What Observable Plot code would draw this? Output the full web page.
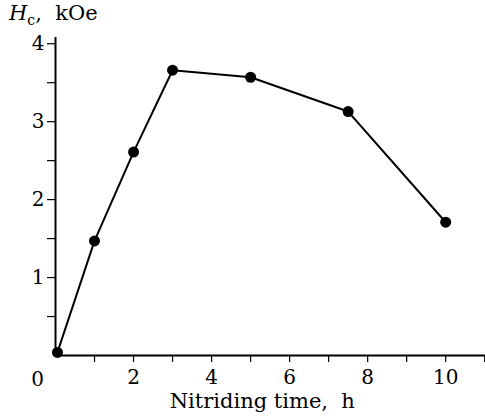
<!DOCTYPE html>
<html>
<head>
<meta charset="utf-8">
<script src="https://cdn.jsdelivr.net/npm/d3@7"></script>
<script src="https://cdn.jsdelivr.net/npm/@observablehq/plot@0.6"></script>
<style>
  body { margin: 0; background: #fff; }
  #wrap { position: relative; width: 485px; height: 416px; }
  #ylab { position: absolute; left: 9px; top: 3px; font-family: "DejaVu Serif", serif; font-size: 21px; color: #000; line-height: 1; }
  #ylab sub { font-size: 14px; font-style: normal; vertical-align: -5px; line-height: 0; }
  svg text { font-family: "DejaVu Serif", serif; }
</style>
</head>
<body>
<div id="wrap"><div id="ylab"><i>H</i><sub>c</sub>,&nbsp; kOe</div></div>
<script>
const times = [0.05, 1, 2, 3, 5, 7.5, 10];
const coercivity = [0.04, 1.47, 2.61, 3.66, 3.57, 3.13, 1.71];
const xTicks = [1, 2, 3, 4, 5, 6, 7, 8, 9, 10, 11];
const xLabels = ["", "2", "", "4", "", "6", "", "8", "", "10", ""];
const yTicks = [0.5, 1, 1.5, 2, 2.5, 3, 3.5, 4];
const yLabels = ["", "1", "", "2", "", "3", "", "4"];
const xTitle = "Nitriding time,  h";

const data = times.map((t, i) => ({t, h: coercivity[i]}));

const chart = Plot.plot({
  width: 485,
  height: 416,
  marginLeft: 55,
  marginRight: 0,
  marginTop: 37,
  marginBottom: 61,
  style: {fontFamily: "'DejaVu Serif', serif", fontSize: "20px", color: "#000", background: "#fff"},
  x: {domain: [0, 11.02]},
  y: {domain: [0, 4.08]},
  marks: [
    Plot.axisX(xTicks, {tickSize: 7, tickPadding: 7, fontSize: 20, tickFormat: (d, i) => xLabels[i], label: null, stroke: "#000", strokeWidth: 1.2}),
    Plot.axisY(yTicks, {tickSize: 8, tickPadding: 3, fontSize: 20, tickFormat: (d, i) => yLabels[i], label: null, stroke: "#000", strokeWidth: 1.2}),
    Plot.text(["0"], {x: 0, y: 0, text: d => d, dx: -18, dy: 24, fontSize: 20}),
    Plot.text([xTitle], {x: 5.3, y: 0, text: d => d, dy: 46, fontSize: 21}),
    Plot.ruleX([0], {stroke: "#000", strokeWidth: 2}),
    Plot.ruleY([0], {stroke: "#000", strokeWidth: 2}),
    Plot.line(data, {x: "t", y: "h", stroke: "#000", strokeWidth: 2}),
    Plot.dot(data, {x: "t", y: "h", r: 5.5, fill: "#000"})
  ]
});
document.getElementById("wrap").prepend(chart);
</script>
</body>
</html>
